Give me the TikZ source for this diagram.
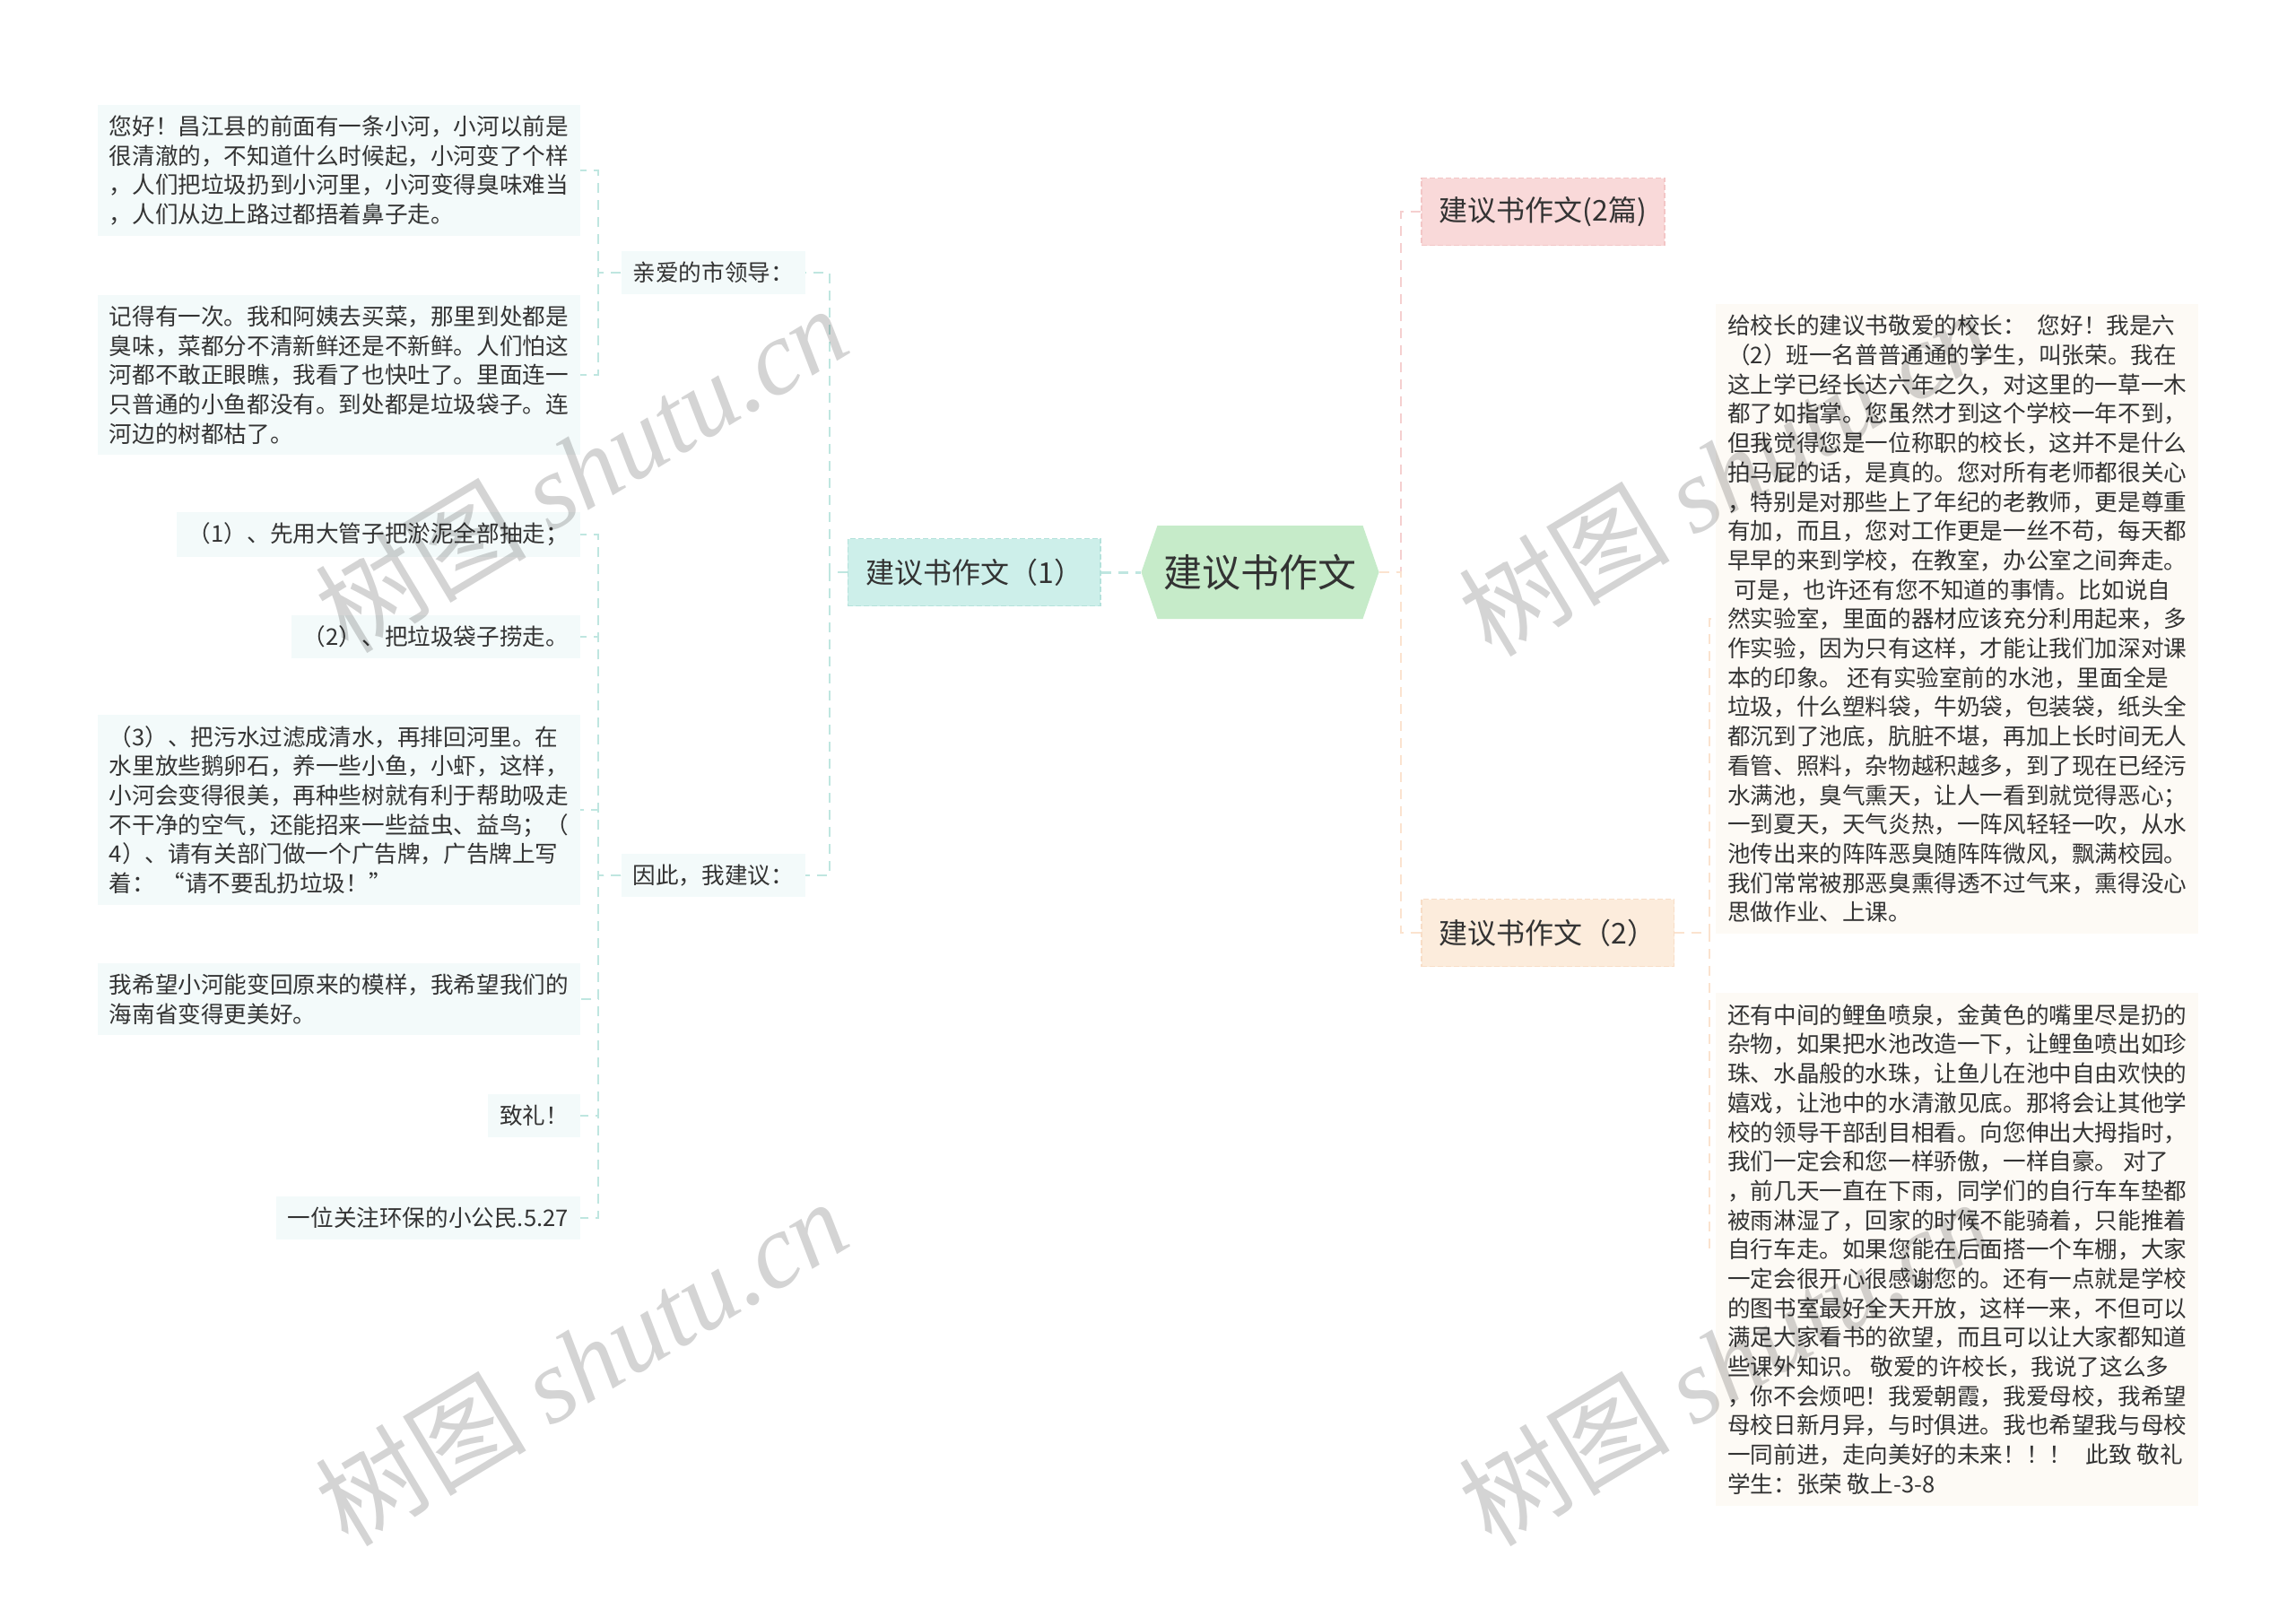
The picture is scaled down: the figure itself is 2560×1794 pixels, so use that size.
\documentclass[tikz,border=0pt]{standalone}
\usepackage{fontspec}
\newfontfamily\cjk{Noto Sans CJK SC}
\newfontfamily\wmserif{Liberation Serif}
\usetikzlibrary{calc}
\definecolor{txt}{HTML}{333333}
\definecolor{rootfill}{HTML}{C6EBC9}
\definecolor{tealfill}{HTML}{CDEFEA}
\definecolor{tealborder}{HTML}{B4E2DB}
\definecolor{tealline}{HTML}{BFE6E0}
\definecolor{leaffill}{HTML}{F3FAFA}
\definecolor{pinkfill}{HTML}{F9D9D9}
\definecolor{pinkborder}{HTML}{F3C6C6}
\definecolor{pinkline}{HTML}{F5CFCF}
\definecolor{peachfill}{HTML}{FCECDC}
\definecolor{peachborder}{HTML}{F8DDC6}
\definecolor{peachline}{HTML}{FBE3CF}
\definecolor{creamfill}{HTML}{FDFAF5}
\begin{document}
\begin{tikzpicture}[x=1pt,y=-1pt,
  leafbox/.style={fill=leaffill, text=txt, font=\cjk\fontsize{25.6}{32.7}\selectfont, align=left, inner xsep=13pt, inner ysep=12pt},
  rleafbox/.style={leafbox, fill=creamfill},
  topicbox/.style={text=txt, font=\cjk\fontsize{32}{38}\selectfont, inner xsep=20pt, minimum height=75pt, line width=1.6pt, dash pattern=on 6pt off 3pt},
  rootbox/.style={text=txt, font=\cjk\fontsize{43}{50}\selectfont, minimum width=265pt, minimum height=104pt, inner sep=0pt,
    path picture={\fill[rootfill] ([xshift=18pt]path picture bounding box.north west) -- ([xshift=-18pt]path picture bounding box.north east) -- (path picture bounding box.east) -- ([xshift=-18pt]path picture bounding box.south east) -- ([xshift=18pt]path picture bounding box.south west) -- (path picture bounding box.west) -- cycle;}},
  conn/.style={line width=2pt, dash pattern=on 11pt off 8pt},
  tconn/.style={conn, draw=tealline},
  pconn/.style={conn, draw=pinkline},
  oconn/.style={conn, draw=peachline},
  wmark/.style={text=black, opacity=0.17, font=\fontsize{118}{118}\selectfont, inner sep=0pt}
]
\fill[white] (0,0) rectangle (2560,1794);
\useasboundingbox (0,0) rectangle (2560,1794);

% root
\node[rootbox] (root) at (1405,638) {建议书作文};

% second level
\node[topicbox, fill=tealfill, draw=tealborder, anchor=east] (n1) at (1228,638) {建议书作文（1）};
\node[topicbox, fill=pinkfill, draw=pinkborder, anchor=west] (t2a) at (1584,236) {建议书作文(2篇)};
\node[topicbox, fill=peachfill, draw=peachborder, anchor=west] (t2b) at (1584,1040) {建议书作文（2）};

% third level (left)
\node[leafbox, anchor=east] (qin) at (898,304) {亲爱的市领导：};
\node[leafbox, anchor=east] (yin) at (898,976) {因此，我建议：};

% leaves under qin
\node[leafbox, anchor=east] (l1) at (647,190) {您好！昌江县的前面有一条小河，小河以前是\\很清澈的，不知道什么时候起，小河变了个样\\，人们把垃圾扔到小河里，小河变得臭味难当\\，人们从边上路过都捂着鼻子走。};
\node[leafbox, anchor=east] (l2) at (647,418) {记得有一次。我和阿姨去买菜，那里到处都是\\臭味，菜都分不清新鲜还是不新鲜。人们怕这\\河都不敢正眼瞧，我看了也快吐了。里面连一\\只普通的小鱼都没有。到处都是垃圾袋子。连\\河边的树都枯了。};

% leaves under yin
\node[leafbox, anchor=east] (s1) at (647,596) {（1）、先用大管子把淤泥全部抽走；};
\node[leafbox, anchor=east] (s2) at (647,710) {（2）、把垃圾袋子捞走。};
\node[leafbox, anchor=east] (s3) at (647,903) {（3）、把污水过滤成清水，再排回河里。在\\水里放些鹅卵石，养一些小鱼，小虾，这样，\\小河会变得很美，再种些树就有利于帮助吸走\\不干净的空气，还能招来一些益虫、益鸟；（\\4）、请有关部门做一个广告牌，广告牌上写\\着：\hspace{0.3em}“请不要乱扔垃圾！”};
\node[leafbox, anchor=east] (s4) at (647,1114) {我希望小河能变回原来的模样，我希望我们的\\海南省变得更美好。};
\node[leafbox, anchor=east] (s5) at (647,1244) {致礼！};
\node[leafbox, anchor=east] (s6) at (647,1358) {一位关注环保的小公民.5.27};

% right leaves
\node[rleafbox, anchor=west] (ra) at (1913,690) {给校长的建议书敬爱的校长：\hspace{0.5em}您好！我是六\\（2）班一名普普通通的学生，叫张荣。我在\\这上学已经长达六年之久，对这里的一草一木\\都了如指掌。您虽然才到这个学校一年不到，\\但我觉得您是一位称职的校长，这并不是什么\\拍马屁的话，是真的。您对所有老师都很关心\\，特别是对那些上了年纪的老教师，更是尊重\\有加，而且，您对工作更是一丝不苟，每天都\\早早的来到学校，在教室，办公室之间奔走。\\\hspace*{0.3em}可是，也许还有您不知道的事情。比如说自\\然实验室，里面的器材应该充分利用起来，多\\作实验，因为只有这样，才能让我们加深对课\\本的印象。 还有实验室前的水池，里面全是\\垃圾，什么塑料袋，牛奶袋，包装袋，纸头全\\都沉到了池底，肮脏不堪，再加上长时间无人\\看管、照料，杂物越积越多，到了现在已经污\\水满池，臭气熏天，让人一看到就觉得恶心；\\一到夏天，天气炎热，一阵风轻轻一吹，从水\\池传出来的阵阵恶臭随阵阵微风，飘满校园。\\我们常常被那恶臭熏得透不过气来，熏得没心\\思做作业、上课。};
\node[rleafbox, anchor=west] (rb) at (1913,1393) {还有中间的鲤鱼喷泉，金黄色的嘴里尽是扔的\\杂物，如果把水池改造一下，让鲤鱼喷出如珍\\珠、水晶般的水珠，让鱼儿在池中自由欢快的\\嬉戏，让池中的水清澈见底。那将会让其他学\\校的领导干部刮目相看。向您伸出大拇指时，\\我们一定会和您一样骄傲，一样自豪。 对了\\，前几天一直在下雨，同学们的自行车车垫都\\被雨淋湿了，回家的时候不能骑着，只能推着\\自行车走。如果您能在后面搭一个车棚，大家\\一定会很开心很感谢您的。还有一点就是学校\\的图书室最好全天开放，这样一来，不但可以\\满足大家看书的欲望，而且可以让大家都知道\\些课外知识。 敬爱的许校长，我说了这么多\\，你不会烦吧！我爱朝霞，我爱母校，我希望\\母校日新月异，与时俱进。我也希望我与母校\\一同前进，走向美好的未来！！！\hspace{0.6em}此致 敬礼\\学生：张荣 敬上-3-8};

% connectors left
\draw[tconn, line width=3pt] (n1.east) -- (root.west);
\draw[tconn] (n1.west) -- ++(-20,0) |- (qin.east);
\draw[tconn] (n1.west) -- ++(-20,0) |- (yin.east);
\foreach \t in {l1,l2} { \draw[tconn] (qin.west) -- ++(-25,0) |- (\t.east); }
\foreach \t in {s1,s2,s3,s4,s5,s6} { \draw[tconn] (yin.west) -- ++(-25,0) |- (\t.east); }

% connectors right
\draw[pconn] (root.east) -- ++(24,0) |- (t2a.west);
\draw[oconn] (root.east) -- ++(24,0) |- (t2b.west);
\draw[oconn] (t2b.east) -- ++(39,0) |- (ra.west);
\draw[oconn] (t2b.east) -- ++(39,0) |- (rb.west);

% watermarks
\node[wmark, rotate=31] (w1) at (648,522) {\cjk 树图 \wmserif\itshape shutu.cn};
\node[wmark, rotate=31] (w2) at (648,1518) {\cjk 树图 \wmserif\itshape shutu.cn};
\node[wmark, rotate=31] (w3) at (1923,526) {\cjk 树图 \wmserif\itshape shutu.cn};
\node[wmark, rotate=31] (w4) at (1923,1518) {\cjk 树图 \wmserif\itshape shutu.cn};
\end{tikzpicture}
\end{document}
